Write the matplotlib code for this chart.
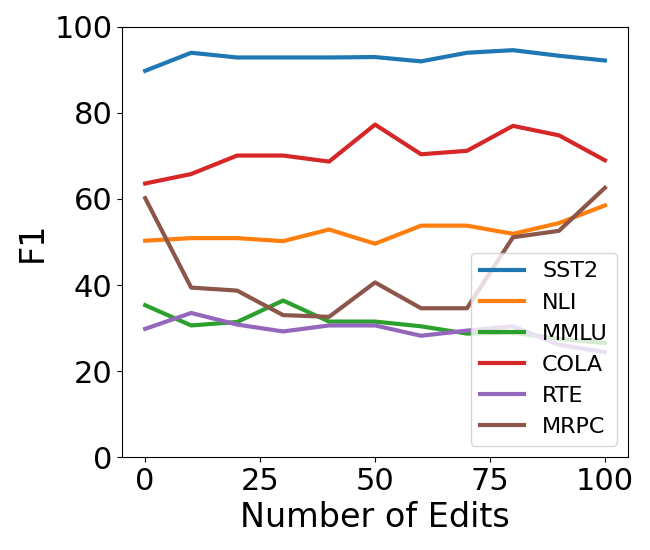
import matplotlib
matplotlib.use("Agg")
import matplotlib.pyplot as plt

edits = [0, 10, 20, 30, 40, 50, 60, 70, 80, 90, 100]

sst2 = [89.8, 94.0, 92.9, 92.9, 92.9, 93.0, 92.0, 94.0, 94.6, 93.3, 92.2]
nli = [50.3, 50.9, 50.9, 50.2, 52.9, 49.6, 53.8, 53.8, 51.9, 54.4, 58.5]
mmlu = [35.3, 30.6, 31.4, 36.4, 31.5, 31.5, 30.4, 28.7, 28.9, 27.5, 26.5]
cola = [63.6, 65.8, 70.1, 70.1, 68.7, 77.3, 70.4, 71.2, 77.0, 74.8, 69.0]
rte = [29.8, 33.5, 30.8, 29.2, 30.6, 30.6, 28.2, 29.4, 30.4, 26.1, 24.4]
mrpc = [60.2, 39.4, 38.7, 33.0, 32.6, 40.6, 34.6, 34.6, 51.1, 52.6, 62.6]

series = [
    ("SST2", sst2),
    ("NLI", nli),
    ("MMLU", mmlu),
    ("COLA", cola),
    ("RTE", rte),
    ("MRPC", mrpc),
]

fig = plt.figure(figsize=(6.5, 5.5), dpi=100)
ax = fig.add_axes([0.188, 0.169, 0.778, 0.782])

for name, vals in series:
    ax.plot(edits, vals, linewidth=3, label=name)

ax.set_ylim(0, 100)
ax.set_xticks([0, 25, 50, 75, 100])
ax.tick_params(labelsize=22)
ax.set_xlabel("Number of Edits", fontsize=24)
ax.set_ylabel("F1", fontsize=24)
ax.legend(loc="lower right", fontsize=16)

fig.savefig("out.png", dpi=100)
